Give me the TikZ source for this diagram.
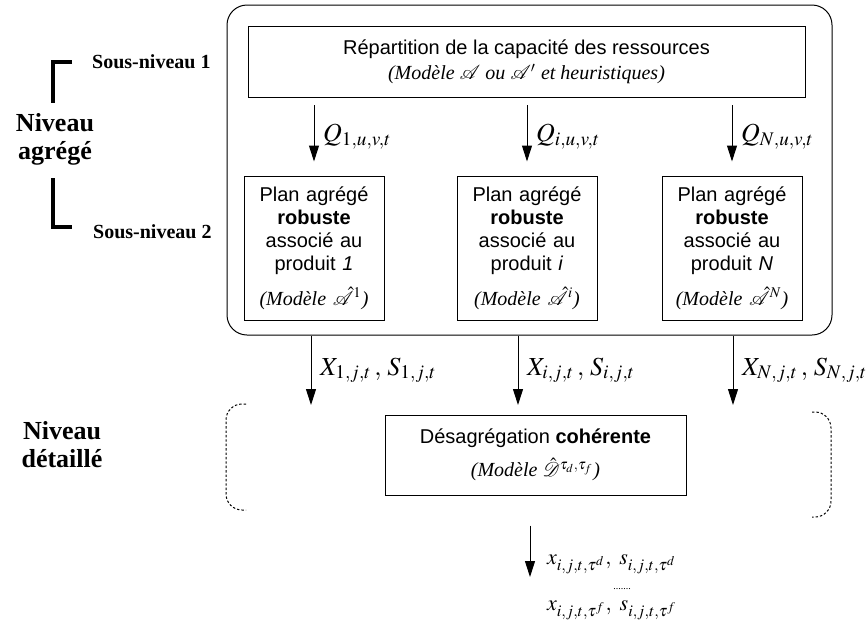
\documentclass[tikz,border=0pt]{standalone}
\usepackage{mathptmx}
\usepackage{mathrsfs}
\usepackage{fontspec}
\setmainfont{Liberation Serif}
\newfontfamily\hvfont{Liberation Sans}
\usetikzlibrary{arrows.meta, positioning, calc}
\tikzset{
  every picture/.style={line width=0.5pt},
  box/.style={draw, align=center, font=\hvfont\fontsize{10}{12.5}\selectfont, inner sep=2pt},
  arrow/.style={-{Triangle[length=8pt, width=5pt]}, line width=0.5pt},
  lvl/.style={font=\bfseries\fontsize{13}{14}\selectfont, align=center},
  sub/.style={font=\bfseries\fontsize{10}{12}\selectfont, anchor=west},
  bracket/.style={line width=2pt},
  lbl/.style={font=\fontsize{13}{15}\selectfont, right=1pt},
  dotbrace/.style={dash pattern=on 1.2pt off 1pt, line width=0.5pt, rounded corners=8pt},
}
\newcommand{\modele}[1]{{\rmfamily\itshape (Modèle #1)}}

\begin{document}
\begin{tikzpicture}[x=0.5pt, y=-0.5pt,
  prod/.style={box, text width=66pt, minimum height=72pt, font=\hvfont\fontsize{10}{11.5}\selectfont},
  small/.style={font=\fontsize{11}{13}\selectfont, anchor=west}]
  \useasboundingbox (0,0) rectangle (868,622);
  % niveau agrege
  \node[draw, rounded corners=10pt, minimum width=302.5pt, minimum height=165pt] (agg) at (529.5,170) {};
  \node[box, minimum width=278.5pt, minimum height=35.5pt] (rep) at (526.5,62)
    {Répartition de la capacité des ressources\\ \modele{$\mathscr{A}$ ou $\mathscr{A}'$ et heuristiques}};
  \foreach \i/\x in {1/314, i/527, N/732}{
    \node[prod] (b\i) at (\x,248) {Plan agrégé\\ \textbf{robuste}\\ associé au\\ produit \textit{\i}\\[6pt] \modele{$\hat{\mathscr{A}}^{\i}$}};
    \draw[arrow, shorten <=3.5pt, shorten >=7pt] (b\i.north |- rep.south) -- (b\i.north)
      node[lbl, midway] {$Q_{\i,u,v,t}$};
  }
  \foreach \i/\x in {1/311, i/518, N/733}{
    \coordinate (e\i) at (\x,405);
    \draw[arrow] (e\i |- agg.south) -- (e\i) node[lbl, midway] {$X_{\i,j,t}\,,\,S_{\i,j,t}$};
  }
  % niveau detaille
  \draw[dotbrace] (246,404) -| (226,510) -- (246,510);
  \draw[dotbrace] (812,412) -| (831,517) -- (812,517);
  \node[box, minimum width=150.5pt, minimum height=40pt] (dis) at (535.5,455)
    {Désagrégation \textbf{cohérente}\\[4pt] \modele{$\hat{\mathscr{D}}^{\tau_d,\tau_f}$}};
  \coordinate (out) at (530,577);
  \draw[arrow, shorten <=15pt] (dis.south -| out) -- (out);
  \node[small] (xd) at (540,564) {$x_{i,j,t,\tau^d},\ s_{i,j,t,\tau^d}$};
  \node[font=\tiny, inner sep=0pt] (dots) at (622,589) {.......};
  \node[small] (xf) at (540,610) {$x_{i,j,t,\tau^f},\ s_{i,j,t,\tau^f}$};
  % etiquettes a gauche
  \node[sub] (sn1) at (85,62) {Sous-niveau 1};
  \node[sub] (sn2) at (86,232) {Sous-niveau 2};
  \node[lvl] (agr) at (55,139) {Niveau\\agrégé};
  \draw[bracket] (72,62) -| (53,103);
  \draw[bracket] (53,178) |- (72,227);
  \node[lvl] (det) at (62,445) {Niveau\\détaillé};
\end{tikzpicture}
\end{document}
